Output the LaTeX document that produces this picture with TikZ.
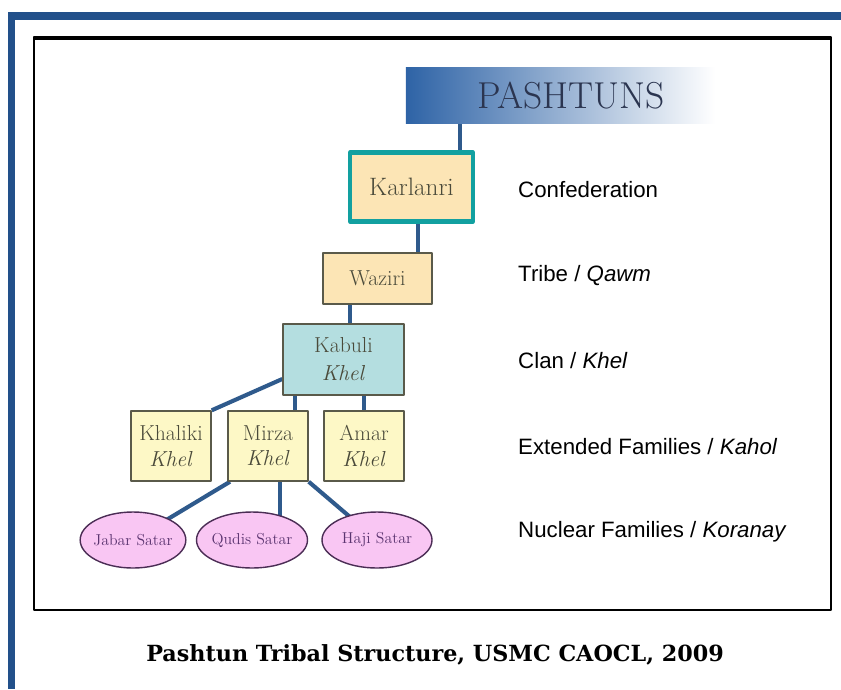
\documentclass[tikz,border=0pt]{standalone}
\usepackage{fontspec}
\usepackage{xcolor}
\usepackage{tikz}
\usetikzlibrary{shapes.geometric,backgrounds}
\newfontfamily\rankfont{Liberation Sans}
\newfontfamily\capfont{DejaVu Serif}

\definecolor{framebl}{HTML}{22508A}
\definecolor{tiebl}{HTML}{2F5A8C}
\definecolor{bannerbl}{HTML}{2E63A6}
\definecolor{navytext}{HTML}{2B3550}
\definecolor{tanfill}{HTML}{FCE5B5}
\definecolor{tealedge}{HTML}{12A0A0}
\definecolor{clanfill}{HTML}{B4DEE0}
\definecolor{famfill}{HTML}{FDF8C6}
\definecolor{pinkfill}{HTML}{F9C6F3}
\definecolor{plumedge}{HTML}{4B2D55}
\definecolor{plumtext}{HTML}{5B3470}
\definecolor{boxedge}{HTML}{5A5A4A}
\definecolor{boxtext}{HTML}{4A4A3A}

\begin{document}
\begin{tikzpicture}[x=0.03cm, y=-0.03cm, line join = round,
    tie/.style={tiebl, line width=3.5pt},
    clanbox/.style={draw=boxedge, line width=1.2pt, text=boxtext, align=center, inner sep=0pt,
                    font=\fontsize{18.5}{24}\selectfont},
    homeoval/.style={ellipse, draw=plumedge, line width=1.2pt, fill=pinkfill, text=plumtext,
                     inner xsep=-2pt, inner ysep=0pt, minimum height=1.68cm, font=\fontsize{13.5}{15}\selectfont},
    ranktext/.style={anchor=west, inner sep=0pt, font=\rankfont\fontsize{19}{22}\selectfont}]

    \useasboundingbox (0,0) rectangle (841,689);

    % frame
    \draw[framebl, line width=6pt] (841,16) -- (8,16);
    \draw[framebl, line width=6pt] (11.5,13) -- (11.5,689);
    \draw[black, line width=1.8pt] (34,37) rectangle (831,610);
    \draw[black, line width=3pt] (34,38) -- (831,38);

    % banner
    \node[shade, left color=bannerbl, middle color=bannerbl!35!white, right color=white,
          minimum width=9.27cm, minimum height=1.68cm, inner sep=0pt] (banner) at (560.5,95) {};
    \node[text=navytext, font=\fontsize{32}{34}\selectfont] (pashtuns) at (571,96) {PASHTUNS};

    % boxes
    \node[clanbox, draw=tealedge, line width=3.5pt, fill=tanfill, minimum width=3.69cm, minimum height=2.07cm,
          font=\fontsize{21.5}{24}\selectfont] (karlanri) at (411.5,187) {Karlanri};
    \node[clanbox, fill=tanfill, minimum width=3.27cm, minimum height=1.53cm] (waziri) at (377.5,278.5) {Waziri};
    \node[clanbox, fill=clanfill, minimum width=3.63cm, minimum height=2.13cm] (kabuli) at (343.5,359.5) {Kabuli\\\textit{Khel}};

    \node[clanbox, fill=famfill, minimum width=2.4cm, minimum height=2.1cm,
          font=\fontsize{18.5}{21.5}\selectfont] (khaliki) at (171,446) {Khaliki\\\textit{Khel}};
    \node[clanbox, fill=famfill, minimum width=2.4cm, minimum height=2.1cm,
          font=\fontsize{18.5}{21.5}\selectfont] (mirza) at (268,446) {Mirza\\\textit{Khel}};
    \node[clanbox, fill=famfill, minimum width=2.4cm, minimum height=2.1cm,
          font=\fontsize{18.5}{21.5}\selectfont] (amar) at (364,446) {Amar\\\textit{Khel}};

    \node[homeoval, minimum width=3.09cm] (jabar) at (133,540) {Jabar Satar};
    \node[homeoval, minimum width=3.33cm] (qudis) at (252,540) {Qudis Satar};
    \node[homeoval, minimum width=3.3cm] (haji) at (377,540) {Haji Satar};

    % ties
    \begin{scope}[on background layer]
        \draw[tie] ([xshift=-3.015cm]banner.south) -- ([xshift=-3.015cm]banner.south |- karlanri.north);
        \draw[tie] ([xshift=0.2cm]karlanri.south) -- ([xshift=0.2cm]karlanri.south |- waziri.north);
        \draw[tie] ([xshift=-0.825cm]waziri.south) -- ([xshift=-0.825cm]waziri.south |- kabuli.north);

        \draw[tie] ([yshift=-0.585cm]kabuli.west) -- (khaliki.north east);
        \draw[tie] ([xshift=-1.455cm]kabuli.south) -- ([xshift=-1.455cm]kabuli.south |- mirza.north);
        \draw[tie] (amar.north |- kabuli.south) -- (amar.north);

        \draw[tie] ([xshift=-1.14cm]mirza.south) -- (jabar.center);
        \draw[tie] ([xshift=0.36cm]mirza.south) -- ([xshift=0.36cm]mirza.south |- qudis.center);
        \draw[tie] (mirza.south east) -- (haji.center);
    \end{scope}

    % ranks
    \node[ranktext] (conf) at (518,190) {Confederation};
    \node[ranktext] (tribe) at (518,276) {Tribe / \textit{Qawm}};
    \node[ranktext] (clan) at (518,361) {Clan / \textit{Khel}};
    \node[ranktext] (ext) at (518,447) {Extended Families / \textit{Kahol}};
    \node[ranktext] (nuc) at (518,532) {Nuclear Families / \textit{Koranay}};

    % caption
    \node[font=\capfont\bfseries\fontsize{19}{22}\selectfont] (caption) at (435,655)
        {Pashtun Tribal Structure, USMC CAOCL, 2009};

\end{tikzpicture}
\end{document}
